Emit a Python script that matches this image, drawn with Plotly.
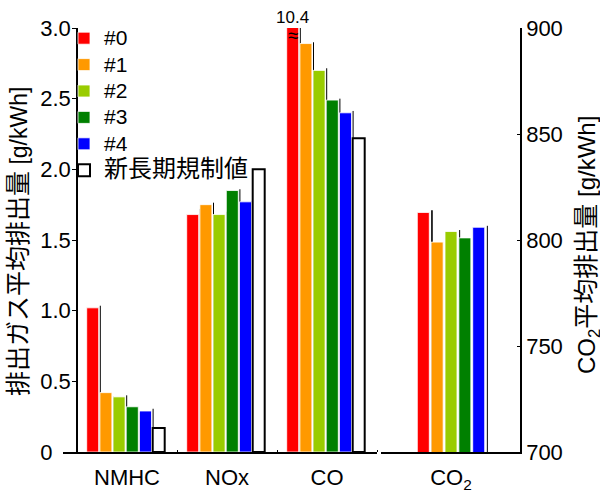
import plotly.graph_objects as go

# ---------------- data ----------------
categories = ["NMHC", "NOx", "CO"]
series_names = ["#0", "#1", "#2", "#3", "#4"]
series_colors = ["#FF0000", "#FF9900", "#99CC00", "#008000", "#0000FF"]

# average emissions [g/kWh] for NMHC, NOx, CO
emis_0 = [1.02, 1.68, 10.4]
emis_1 = [0.42, 1.75, 2.89]
emis_2 = [0.39, 1.68, 2.70]
emis_3 = [0.32, 1.85, 2.49]
emis_4 = [0.29, 1.77, 2.40]
emis_series = [emis_0, emis_1, emis_2, emis_3, emis_4]

# upper end of the range line drawn beside each bar
emis_max_0 = [1.035, 1.72, 10.6]
emis_max_1 = [0.39, 1.764, 2.899]
emis_max_2 = [0.401, 1.70, 2.715]
emis_max_3 = [0.28, 1.859, 2.50]
emis_max_4 = [0.306, 1.80, 2.413]
emis_max_series = [emis_max_0, emis_max_1, emis_max_2, emis_max_3, emis_max_4]

regulation_name = "新長期規制値"
regulation = [0.17, 2.00, 2.22]

co2_category = "CO<sub>2</sub>"
co2_values = [813, 799, 804, 801, 806]
co2_max = [814, 798, 804.7, 800, 806.7]

left_ticks = [0, 0.5, 1.0, 1.5, 2.0, 2.5, 3.0]
left_ticktext = ["0\u2008\u2007", "0.5", "1.0", "1.5", "2.0", "2.5", "3.0"]
right_ticks = [700, 750, 800, 850, 900]

# ---------------- layout helpers ----------------
W, H = 600, 491
FONT = "Liberation Sans, Arial, Noto Sans CJK JP, sans-serif"
pitch = 0.132
bar_w = 0.12
first_c = 0.157
co2_pitch = 0.1385
co2_first_c = 0.423

def grp_x(i):
    return [g + first_c + pitch * i for g in range(len(categories))]

def grp_line_x(i):
    return [g + first_c - bar_w / 2 + pitch * (i + 1) + 0.004 for g in range(len(categories))]

fig = go.Figure()

# range lines (drawn first, so the following bars cover them)
for i, tops in enumerate(emis_max_series):
    fig.add_trace(go.Bar(
        x=grp_line_x(i), y=tops, width=0.001, xaxis="x", yaxis="y",
        marker=dict(color="rgba(0,0,0,0)", line=dict(width=0)),
        error_y=dict(type="data", symmetric=False, array=[0] * len(tops),
                     arrayminus=tops, color="black", thickness=1, width=0),
        showlegend=False, hoverinfo="skip"))
for i, top in enumerate(co2_max):
    fig.add_trace(go.Bar(
        x=[co2_first_c - bar_w / 2 + co2_pitch * (i + 1) + 0.008], y=[top], width=0.001,
        xaxis="x2", yaxis="y2",
        marker=dict(color="rgba(0,0,0,0)", line=dict(width=0)),
        error_y=dict(type="data", symmetric=False, array=[0], arrayminus=[top],
                     color="black", thickness=1.6 if i == 0 else 1, width=0),
        showlegend=False, hoverinfo="skip"))

# bars
for i, (name, col, vals) in enumerate(zip(series_names, series_colors, emis_series)):
    fig.add_trace(go.Bar(
        x=grp_x(i), y=vals, width=bar_w, name=f"<span style='font-size:21px'>{name}</span>",
        xaxis="x", yaxis="y", legendgroup=name,
        marker=dict(color=col, line=dict(color="rgba(255,255,255,0.8)", width=1))))
fig.add_trace(go.Bar(
    x=grp_x(5), y=regulation, width=bar_w,
    name=f"<span style='font-size:24px'>{regulation_name}</span>",
    xaxis="x", yaxis="y",
    marker=dict(color="white", line=dict(color="black", width=2))))

for i, (name, col, v) in enumerate(zip(series_names, series_colors, co2_values)):
    fig.add_trace(go.Bar(
        x=[co2_first_c + co2_pitch * i], y=[v], width=bar_w, name=name,
        xaxis="x2", yaxis="y2", legendgroup=name, showlegend=False,
        marker=dict(color=col, line=dict(color="rgba(255,255,255,0.8)", width=1))))

y_dom = [39 / H, (H - 28) / H]
co_red_x = 2 + first_c

fig.update_layout(
    width=W, height=H,
    margin=dict(l=0, r=0, t=0, b=0, autoexpand=False),
    paper_bgcolor="white", plot_bgcolor="white",
    barmode="overlay",
    font=dict(family=FONT, size=22, color="black"),
    showlegend=True,
    legend=dict(x=64 / W, y=1 - 20 / H, xanchor="left", yanchor="top",
                bgcolor="rgba(0,0,0,0)", font=dict(size=18), traceorder="normal"),
    xaxis=dict(domain=[63 / W, 377 / W], range=[-0.14, 3.0], anchor="y",
               tickvals=[0.5, 1.5, 2.5], ticktext=categories, ticks="",
               showline=True, linecolor="black", linewidth=1.5, showgrid=False,
               zeroline=False, tickfont=dict(size=22), ticklabelstandoff=5,
               minor=dict(tickvals=[1, 2, 3], ticks="inside", ticklen=2,
                          tickcolor="black", showgrid=False)),
    yaxis=dict(domain=y_dom, range=[0, 3], anchor="free", position=77 / W,
               tickvals=left_ticks, ticktext=left_ticktext, ticks="outside",
               ticklen=4, tickcolor="black", showline=True, linecolor="black",
               linewidth=1.5, showgrid=False, zeroline=False,
               tickfont=dict(size=22), ticklabelstandoff=-3),
    xaxis2=dict(domain=[381 / W, 520 / W], range=[0, 1.39], anchor="y2",
                tickvals=[co2_first_c + co2_pitch * 2], ticktext=[co2_category],
                ticks="", showline=True, linecolor="black", linewidth=1.5,
                showgrid=False, zeroline=False, tickfont=dict(size=22),
                ticklabelstandoff=5),
    yaxis2=dict(domain=y_dom, range=[700, 900], anchor="x2", side="right",
                tickvals=right_ticks, ticks="inside", ticklen=3, tickcolor="black",
                showline=True, linecolor="black", linewidth=1.5, showgrid=False,
                zeroline=False, tickfont=dict(size=22)),
    annotations=[
        dict(x=co_red_x, y=3.0, xref="x", yref="y", text=f"{emis_0[2]}",
             showarrow=False, yanchor="bottom", yshift=-1, font=dict(size=17)),
        dict(x=co_red_x, y=2.95, xref="x", yref="y", text="≈",
             showarrow=False, font=dict(size=19, color="black")),
        dict(x=18 / W, y=1 - 242 / H, xref="paper", yref="paper",
             text="<span style='font-size:25px'>排出ガス平均排出量</span> [g/kWh]",
             textangle=-90, showarrow=False, xanchor="center", yanchor="middle",
             font=dict(size=23)),
        dict(x=588 / W, y=1 - 245 / H, xref="paper", yref="paper",
             text="CO<sub>2</sub><span style='font-size:25px'>平均排出量</span> [g/kWh]",
             textangle=-90, showarrow=False, xanchor="center", yanchor="middle",
             font=dict(size=24)),
    ],
)

fig.write_html("out.html", config={"displayModeBar": False},
               post_script="document.body.style.margin='0';document.body.style.overflow='hidden';")
